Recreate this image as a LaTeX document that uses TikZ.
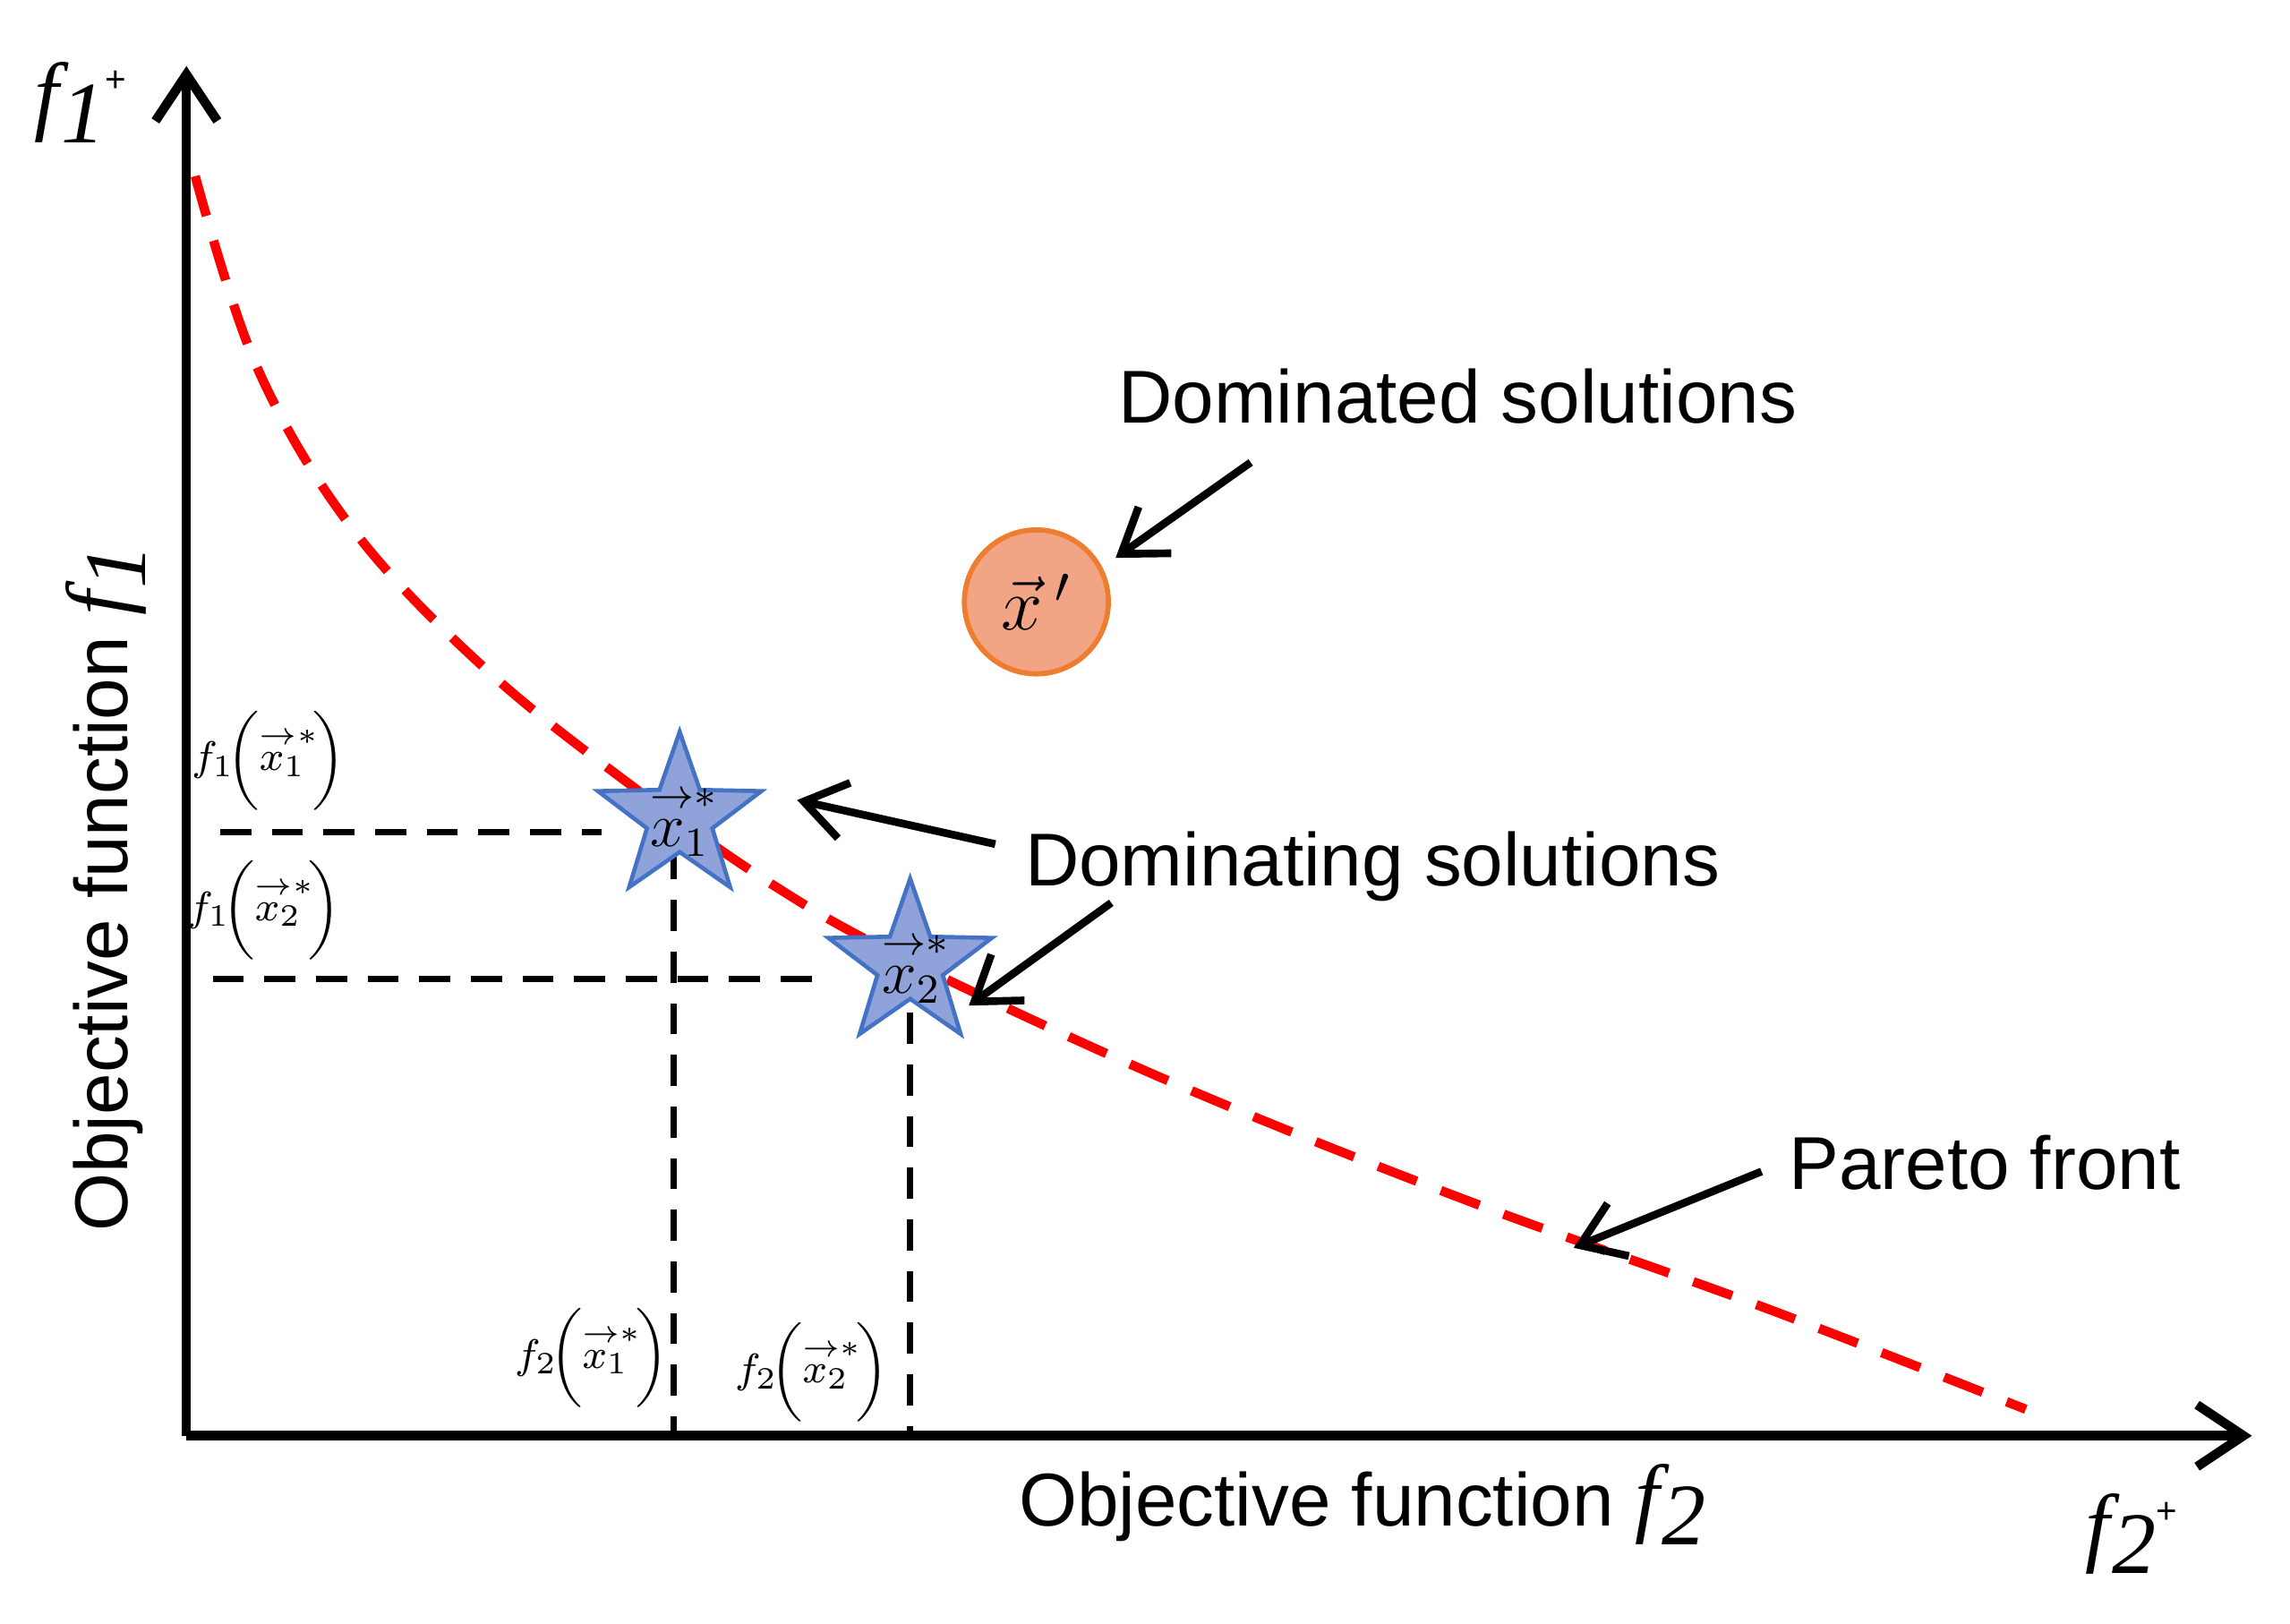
\documentclass[tikz,border=0pt]{standalone}
\usepackage{amsmath}
\usepackage{fontspec}
\setmainfont{Liberation Sans}
\newfontfamily\tnr{Liberation Serif}
\usetikzlibrary{shapes.geometric,arrows.meta}
\definecolor{starfill}{HTML}{8FA2D9}
\definecolor{stardraw}{HTML}{4472C4}
\definecolor{cfill}{HTML}{F2A585}
\definecolor{cdraw}{HTML}{ED7D31}
\newcommand{\fl}[2]{{\tnr\itshape\fontsize{#2}{#2}\selectfont f\kern0.5pt\raisebox{-0.45ex}{#1}}}
\newcommand{\vx}[1]{\rlap{$\overset{\rightarrow *}{\phantom{x}}$}x_{#1}}
\newcommand{\vxm}[1]{\rlap{$\footnotesize\overset{\rightarrow *}{\phantom{x}}$}x_{#1}\,}
\begin{document}
\begin{tikzpicture}[x=0.01cm,y=-0.01cm,
  ax/.style={line width=1.8pt,-{Straight Barb[length=9pt,width=12pt]}},
  ann/.style={line width=1.5pt,-{Straight Barb[length=8pt,width=11pt]}},
  dsh/.style={line width=1.3pt,dash pattern=on 6pt off 4pt},
  big/.style={font=\fontsize{14.5}{17}\selectfont},
  sml/.style={font=\footnotesize},
  st/.style={star,star points=5,star point ratio=2.5,minimum size=1.17cm,inner sep=0pt,fill=starfill,draw=stardraw,line width=0.8pt}]
\useasboundingbox (0,0) rectangle (1560,1106);
\coordinate (o) at (127,978);
\coordinate (ytop) at (127,45);
\coordinate (xend) at (1534,978);
\draw[ax] (o) -- (ytop);
\draw[ax] (o) -- (xend);
\node (f1p) at (55,70) {\fl{1}{17}\raisebox{1.2ex}{\normalfont\scriptsize+}};
\node (f2p) at (1452,1045) {\fl{2}{17}\raisebox{1.2ex}{\normalfont\scriptsize+}};
\node[big,rotate=90] (yl) at (72,605) {Objective function \fl{1}{17}};
\node[big] (xl) at (928,1025) {Objective function \fl{2}{17}};
% curve
\draw[red,line width=1.8pt,dash pattern=on 8pt off 5pt] plot[smooth,tension=0.6] coordinates {(133,120) (175,250) (240,360) (330,455) (430,535) (530,605) (620,655) (800,738) (1000,818) (1200,890) (1380,960)};
% dashed guides
\draw[dsh] (150,567) -- (410,567);
\draw[dsh] (145,667) -- (555,667);
\draw[dsh] (459,578) -- (459,978);
\draw[dsh] (620,690) -- (620,978);
% stars
\node[st] (s1) at (463,557) {};
\node[st] (s2) at (620,657) {};
\node[font=\large] (s1l) at (463,558) {$\vx{1}$};
\node[font=\large] (s2l) at (621,658) {$\vx{2}$};
% circle
\node[circle,minimum size=0.98cm,fill=cfill,draw=cdraw,line width=1pt] (c) at (706,410) {\Large$\vec{x}\,'$};
% small labels
\node[sml] (a) at (183,518) {$f_1\!\biggl(\vxm{1}\biggr)$};
\node[sml] (b) at (180,620) {$f_1\!\biggl(\vxm{2}\biggr)$};
\node[sml] (cc) at (403,925) {$f_2\!\biggl(\vxm{1}\biggr)$};
\node[sml] (d) at (553,935) {$f_2\!\biggl(\vxm{2}\biggr)$};
% annotations
\node[big] (dom) at (993,270) {Dominated solutions};
\node[big] (dng) at (935,590) {Dominating solutions};
\node[big] (par) at (1352,792) {Pareto front};
\coordinate (t1) at (852,315); \coordinate (h1) at (760,380);
\coordinate (t2) at (678,575); \coordinate (h2) at (543,545);
\coordinate (t3) at (757,615); \coordinate (h3) at (660,685);
\coordinate (t4) at (1200,798); \coordinate (h4) at (1072,850);
\draw[ann] (t1) -- (h1);
\draw[ann] (t2) -- (h2);
\draw[ann] (t3) -- (h3);
\draw[ann] (t4) -- (h4);
\end{tikzpicture}
\end{document}
